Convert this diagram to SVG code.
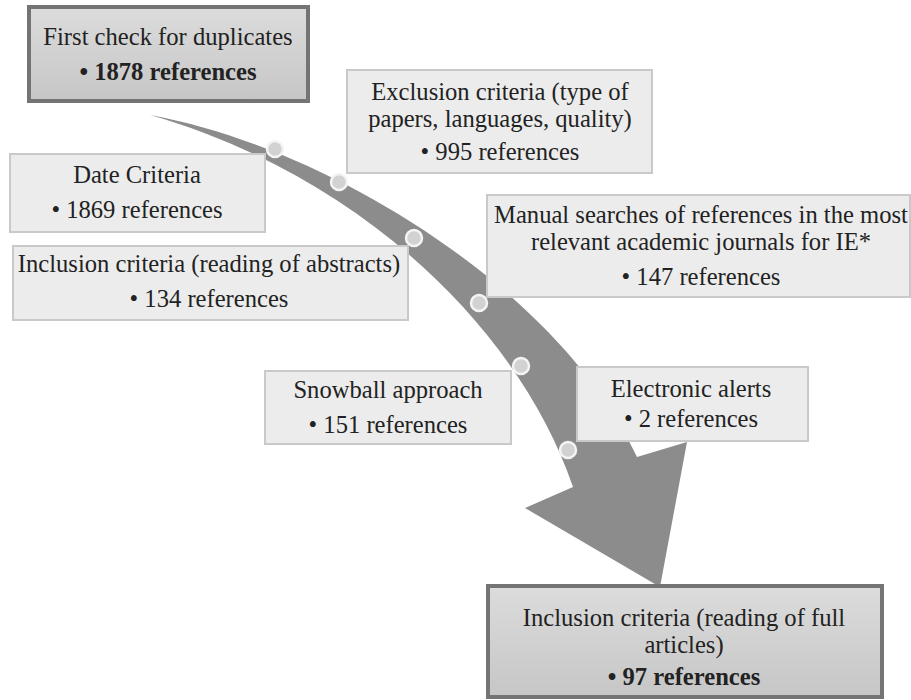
<svg xmlns="http://www.w3.org/2000/svg" width="911" height="700" viewBox="0 0 911 700">
<defs>
<linearGradient id="dk" x1="0" y1="0" x2="0" y2="1">
<stop offset="0" stop-color="#dcdcdc"/>
<stop offset="1" stop-color="#c6c6c6"/>
</linearGradient>
</defs>
<style>
text{font-size:24.6px;fill:#222;text-anchor:middle}
.b{font-weight:bold}
.lt{fill:#ececec;stroke:#c9c9c9;stroke-width:2}
.dk{fill:url(#dk);stroke:#747474;stroke-width:4}
.dot{fill:#d2d2d2;stroke:#f4f4f4;stroke-width:2.5}
</style>
<rect width="911" height="700" fill="#fff"/>
<g id="connectors">
<path d="M150,115 C330,148 560,290 637,457 L687,442 L660,587 L525,508 L573,487 C520,330 360,175 150,115 Z" fill="#8c8c8c"/>
<circle class="dot" cx="275" cy="149" r="8"/>
<circle class="dot" cx="339" cy="182" r="8"/>
<circle class="dot" cx="414" cy="238" r="8"/>
<circle class="dot" cx="479" cy="303" r="8"/>
<circle class="dot" cx="521" cy="366" r="8"/>
<circle class="dot" cx="568" cy="450" r="8"/>
</g>
<g font-family="'Liberation Serif', 'Times New Roman', serif">
<g id="n1">
<rect class="dk" x="29" y="7" width="279" height="94"/>
<text x="168" y="45">First check for duplicates</text>
<text x="168" y="80" class="b">• 1878 references</text>
</g>
<g id="n2">
<rect class="lt" x="347" y="70" width="305" height="103"/>
<text x="500" y="100">Exclusion criteria (type of</text>
<text x="500" y="127">papers, languages, quality)</text>
<text x="500" y="160">• 995 references</text>
</g>
<g id="n3">
<rect class="lt" x="10" y="154" width="255" height="78"/>
<text x="137" y="183">Date Criteria</text>
<text x="137" y="218">• 1869 references</text>
</g>
<g id="n4">
<rect class="lt" x="487" y="195" width="423" height="102"/>
<text x="701" y="223">Manual searches of references in the most</text>
<text x="701" y="250">relevant academic journals for IE*</text>
<text x="701" y="285">• 147 references</text>
</g>
<g id="n5">
<rect class="lt" x="13" y="246" width="395" height="74"/>
<text x="209" y="272">Inclusion criteria (reading of abstracts)</text>
<text x="209" y="307">• 134 references</text>
</g>
<g id="n6">
<rect class="lt" x="265" y="371" width="246" height="73"/>
<text x="388" y="398">Snowball approach</text>
<text x="388" y="433">• 151 references</text>
</g>
<g id="n7">
<rect class="lt" x="577" y="367" width="231" height="74"/>
<text x="691" y="397">Electronic alerts</text>
<text x="691" y="427">• 2 references</text>
</g>
<g id="n8">
<rect class="dk" x="488" y="586" width="394" height="111"/>
<text x="684" y="626">Inclusion criteria (reading of full</text>
<text x="684" y="653">articles)</text>
<text x="684" y="685" class="b">• 97 references</text>
</g>
</g>
</svg>
